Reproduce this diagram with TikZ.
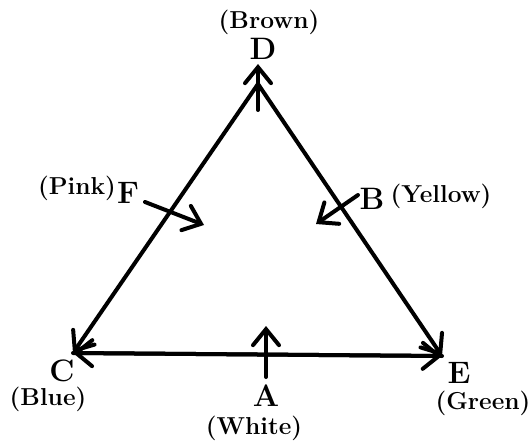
\documentclass[tikz,border=0pt]{standalone}
\usetikzlibrary{arrows.meta}
\begin{document}
\begin{tikzpicture}[x=1pt,y=-1pt,
  edge/.style={line width=4pt,line cap=round,-{Straight Barb[length=16pt,width=26pt,line cap=round]}},
  colour/.style={font=\fontsize{24.5}{27}\selectfont\bfseries,inner sep=0pt},
  letter/.style={font=\fontsize{31}{34}\selectfont\bfseries,inner sep=0pt}]
\useasboundingbox (0,0) rectangle (529,443);
% corners
\coordinate (Dc) at (258,84);
\coordinate (Cc) at (73,353);
\coordinate (Ec) at (442,356);
% triangle sides with arrows at the base corners
\draw[edge] (Dc) -- (Cc);
\draw[edge] (Dc) -- (Ec);
\draw[edge] (Ec) -- (Cc);
\draw[edge] (Cc) -- (Ec);
% labels
\node[colour] (brown) at (269,22) {(Brown)};
\node[letter] (D) at (263,49) {D};
\node[colour] (pink) at (77,188) {(Pink)};
\node[letter] (F) at (128,193) {F};
\node[letter] (B) at (372,199) {B};
\node[colour] (yellow) at (441,196) {(Yellow)};
\node[letter] (C) at (62,371) {C};
\node[colour] (blue) at (48,399) {(Blue)};
\node[letter] (A) at (266,396) {A};
\node[colour] (white) at (254,428) {(White)};
\node[letter] (E) at (459,373) {E};
\node[colour] (green) at (483,403) {(Green)};
% small arrows
\coordinate (d0) at (258,110);
\coordinate (d1) at (258,64);
\draw[edge] (d0) -- (d1);
\coordinate (f0) at (145,202);
\coordinate (f1) at (204,225);
\draw[edge] (f0) -- (f1);
\coordinate (b0) at (358,195);
\coordinate (b1) at (316,224);
\draw[edge] (b0) -- (b1);
\coordinate (a0) at (266,377);
\coordinate (a1) at (266,326);
\draw[edge] (a0) -- (a1);
\end{tikzpicture}
\end{document}
